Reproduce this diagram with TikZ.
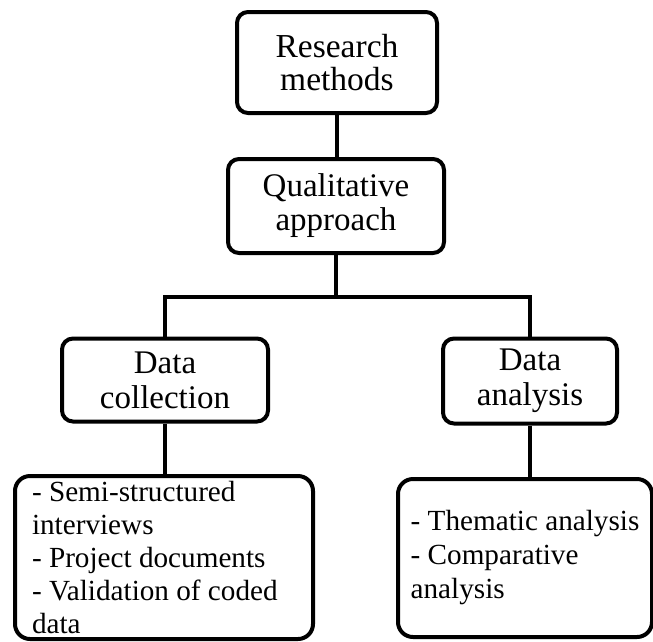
\documentclass[tikz,border=0pt]{standalone}
\usepackage{fontspec}
\setmainfont{Liberation Serif}
\begin{document}
\begin{tikzpicture}[x=1pt,y=-1pt,
  box/.style={draw=black, line width=4pt, rounded corners=11pt, fill=white,
    inner sep=0pt, align=center},
  headbox/.style={box, font={\fontsize{33.5}{33}\selectfont}},
  listbox/.style={box, rounded corners=15pt,
    font={\fontsize{29.2}{33}\selectfont}},
  link/.style={draw=black, line width=4pt}]
  \useasboundingbox (0,0) rectangle (653,641);

  % upper chain
  \node[headbox, minimum width=200pt, minimum height=101pt] (rm) at (337,62.5) {Research\\methods};
  \node[headbox, minimum width=216pt, minimum height=94pt,
        font={\fontsize{33}{34}\selectfont}] (qa) at (336,206) {Qualitative\\approach};

  % second level
  \node[headbox, minimum width=206pt, minimum height=83pt,
        font={\fontsize{33}{35}\selectfont}] (dc) at (165,380) {Data\\collection};
  \node[headbox, minimum width=174pt, minimum height=85pt,
        font={\fontsize{33}{35}\selectfont}] (da) at (530,381) {Data\\analysis};

  % detail boxes
  \node[listbox, align=flush left, text width=264pt, inner xsep=17pt, minimum height=163pt] (dcl) at (164,557.5)
    {- Semi-structured\\interviews\\- Project documents\\- Validation of coded\\data};
  \node[listbox, align=left, minimum width=254pt, minimum height=158pt,
        font={\fontsize{29.2}{34}\selectfont}] (dal) at (525,558)
    {- Thematic analysis\\- Comparative\\analysis};

  % connectors
  \coordinate (bus) at (337,297);
  \draw[link] (rm.south) -- (rm.south |- qa.north);
  \draw[link] (qa.south) -- (qa.south |- bus);
  \draw[link] (dc.north) |- (bus) -| (da.north);
  \draw[link] (dc.south) -- (dc.south |- dcl.north);
  \draw[link] (da.south) -- (da.south |- dal.north);
\end{tikzpicture}
\end{document}
